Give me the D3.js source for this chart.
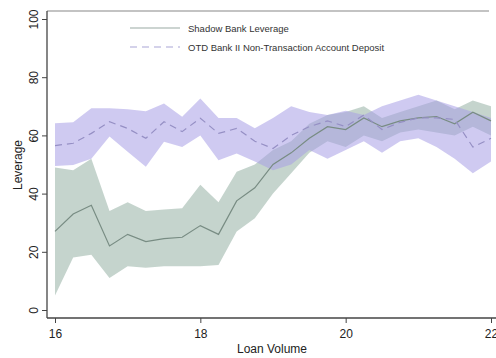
<!DOCTYPE html>
<html><head><meta charset="utf-8">
<script src="https://cdn.jsdelivr.net/npm/d3@7"></script>
<style>body{margin:0;background:#fff}svg{display:block}</style>
</head><body>
<svg id="c" width="496" height="358"></svg>
<script>
const loanVolume = [16,16.25,16.5,16.75,17,17.25,17.5,17.75,18,18.25,18.5,18.75,19,19.25,19.5,19.75,20,20.25,20.5,20.75,21,21.25,21.5,21.75,22];
const shadowMean  = [27,33,36,22,26,23.5,24.5,25,29,26,37.5,42,50,54,59,63,62,66,63,65,66,66.5,64,68,65];
const shadowUpper = [49,48,52,34,37,34,34.5,35,43,37,47.5,50,55,58,64,67,68,70,66,68,70,72,69,72,70];
const shadowLower = [5,18,19,11,15,14.5,15,15,15,15.5,27,31.5,40,47,54,58,56,60,58,61,62,61,60,63,60];
const otdMean  = [56.5,57.3,60.7,64.7,62.4,59,64.7,61.3,65.9,60.7,62.4,58,55.5,60,63,65,63,67,62,64.5,66,66,65.5,56,59];
const otdUpper = [64.2,64.5,69.3,69.3,69,68.3,71,66.4,72.7,66,66,62.5,66,70,68,67,68.5,67,70,72,74,72,70,68,66];
const otdLower = [49.5,49.8,52,59.6,54.4,49.2,57.8,56,60,51.5,53.8,51,48,50,55,52,55,58,54,58,59,56,52,47,51];
const xTicks = [16,18,20,22];
const yTicks = [0,20,40,60,80,100];
const legendLabels = ["Shadow Bank Leverage","OTD Bank II Non-Transaction Account Deposit"];

const svg = d3.select("#c");
const x = d3.scaleLinear().domain([16,22]).range([55,491]);
const y = d3.scaleLinear().domain([0,100]).range([310,19]);
const font = "Liberation Sans, Arial, sans-serif";

const shadow = loanVolume.map((v,i)=>({x:v,m:shadowMean[i],u:shadowUpper[i],l:shadowLower[i]}));
const otd = loanVolume.map((v,i)=>({x:v,m:otdMean[i],u:otdUpper[i],l:otdLower[i]}));

const area = d3.area().x(d=>x(d.x)).y0(d=>y(d.l)).y1(d=>y(d.u));
const line = d3.line().x(d=>x(d.x)).y(d=>y(d.m));

svg.append("path").datum(shadow).attr("d",area).attr("fill","#9fb8ab").attr("fill-opacity",0.6);
svg.append("path").datum(otd).attr("d",area).attr("fill","#a89fe6").attr("fill-opacity",0.55);
svg.append("path").datum(shadow).attr("d",line).attr("fill","none").attr("stroke","#788c83").attr("stroke-width",1.2);
svg.append("path").datum(otd).attr("d",line).attr("fill","none").attr("stroke","#958fc4").attr("stroke-width",1.2).attr("stroke-dasharray","7,5");

// frame
svg.append("line").attr("x1",47).attr("x2",489).attr("y1",11).attr("y2",11).attr("stroke","#888").attr("stroke-width",1.2);

// axes
const xAxis = d3.axisBottom(x).tickValues(xTicks).tickSize(5).tickPadding(6).tickFormat(d3.format("d"));
const gx = svg.append("g").attr("transform","translate(0,318)").call(xAxis);
gx.select(".domain").attr("d","M47,0H496").attr("stroke","#444").attr("stroke-width",1.3);
gx.selectAll(".tick line").attr("stroke","#444");
gx.selectAll("text").attr("font-family",font).attr("font-size",12).attr("fill","#222");

const yAxis = d3.axisLeft(y).tickValues(yTicks).tickSize(5).tickFormat(d3.format("d"));
const gy = svg.append("g").attr("transform","translate(47,0)").call(yAxis);
gy.select(".domain").attr("d","M0,11V318").attr("stroke","#444").attr("stroke-width",1.3);
gy.selectAll(".tick line").attr("stroke","#444");
gy.selectAll("text").attr("font-family",font).attr("font-size",12).attr("fill","#222")
  .attr("x",null).attr("dy",null).attr("text-anchor","middle")
  .attr("transform","translate(-9,0) rotate(-90)");

svg.append("text").attr("x",272).attr("y",353).attr("text-anchor","middle")
  .attr("font-family",font).attr("font-size",12).attr("fill","#222").text("Loan Volume");
svg.append("text").attr("transform","translate(22,165) rotate(-90)").attr("text-anchor","middle")
  .attr("font-family",font).attr("font-size",12).attr("fill","#222").text("Leverage");

// legend
const leg = svg.append("g");
const ly = [28,47];
leg.append("line").attr("x1",130).attr("x2",180).attr("y1",ly[0]).attr("y2",ly[0]).attr("stroke","#9aaaa3").attr("stroke-width",1.2);
leg.append("line").attr("x1",130).attr("x2",180).attr("y1",ly[1]).attr("y2",ly[1]).attr("stroke","#aaa6d6").attr("stroke-width",1.2).attr("stroke-dasharray","7,5");
legendLabels.forEach((t,i)=>{
  leg.append("text").attr("x",188).attr("y",ly[i]+3.5).attr("font-family",font).attr("font-size",9.5).attr("fill","#333").text(t);
});
</script>
</body></html>
